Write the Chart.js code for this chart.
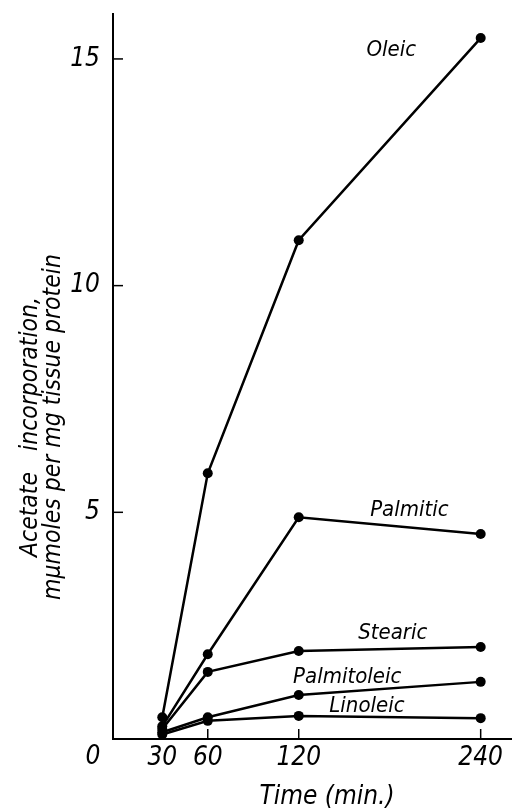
<!DOCTYPE html>
<html>
<head>
<meta charset="utf-8">
<script src="https://cdn.jsdelivr.net/npm/chart.js@4.4.0/dist/chart.umd.min.js"></script>
<style>
  html, body { margin: 0; padding: 0; background: #fff; }
  #wrap { width: 524px; height: 808px; }
</style>
</head>
<body>
<div id="wrap"><canvas id="chart" width="524" height="808"></canvas></div>
<script>
// ===============================
// DATOS
// ===============================
const times = [30, 60, 120, 240];
const oleic = [0.48, 5.86, 11.0, 15.46];
const palmitic = [0.28, 1.87, 4.89, 4.52];
const stearic = [0.22, 1.48, 1.94, 2.03];
const palmitoleic = [0.15, 0.48, 0.97, 1.26];
const linoleic = [0.1, 0.4, 0.51, 0.46];

const xTicks = [30, 60, 120, 240];
const yTicks = [5, 10, 15];

const seriesNames = ["Oleic", "Palmitic", "Stearic", "Palmitoleic", "Linoleic"];
const seriesValues = [oleic, palmitic, stearic, palmitoleic, linoleic];

const xTitle = "Time (min.)";
const yTitle = ["Acetate   incorporation,", "m\u03BCmoles per mg tissue protein"];

// etiquetas junto a las curvas (en unidades de datos)
const labelSpots = {
  Oleic: [181, 15.2],
  Palmitic: [193, 5.04],
  Stearic: [182, 2.33],
  Palmitoleic: [152, 1.37],
  Linoleic: [165, 0.73]
};

const FONT = "'Liberation Sans Narrow', 'DejaVu Sans Condensed', sans-serif";

// ===============================
// PLUGIN: marcas interiores, "0", títulos y nombres
// ===============================
const extras = {
  id: "extras",
  afterDraw(chart) {
    const ctx = chart.ctx;
    const xs = chart.scales.x;
    const ys = chart.scales.y;
    ctx.save();
    ctx.strokeStyle = "#000";
    ctx.lineWidth = 1.5;
    // marcas hacia dentro
    yTicks.forEach(v => {
      const py = ys.getPixelForValue(v);
      ctx.beginPath();
      ctx.moveTo(xs.left, py);
      ctx.lineTo(xs.left + 10, py);
      ctx.stroke();
    });
    xTicks.forEach(v => {
      const px = xs.getPixelForValue(v);
      ctx.beginPath();
      ctx.moveTo(px, ys.bottom);
      ctx.lineTo(px, ys.bottom - 10);
      ctx.stroke();
    });
    ctx.fillStyle = "#000";
    ctx.textAlign = "center";
    ctx.textBaseline = "middle";
    // origen
    ctx.font = "italic 26px " + FONT;
    ctx.fillText("0", xs.left - 20, ys.bottom + 18);
    // título x
    ctx.fillText(xTitle, xs.left + 214, ys.bottom + 58);
    // título y (dos líneas)
    ctx.font = "italic 24.5px " + FONT;
    const cy = ys.bottom - 312;
    [31, 54].forEach((lx, i) => {
      ctx.save();
      ctx.translate(lx, cy);
      ctx.rotate(-Math.PI / 2);
      ctx.fillText(yTitle[i], 0, 0);
      ctx.restore();
    });
    // nombres
    ctx.font = "italic 22px " + FONT;
    seriesNames.forEach(n => {
      const p = labelSpots[n];
      ctx.fillText(n, xs.getPixelForValue(p[0]), ys.getPixelForValue(p[1]));
    });
    ctx.restore();
  }
};

// ===============================
// GRÁFICA
// ===============================
const datasets = seriesNames.map((n, i) => ({
  label: n,
  data: times.map((t, j) => ({ x: t, y: seriesValues[i][j] })),
  borderColor: "#000",
  backgroundColor: "#000",
  borderWidth: 2.5,
  pointRadius: 5,
  pointBorderWidth: 0,
  pointBackgroundColor: "#000",
  tension: 0
}));

new Chart(document.getElementById("chart"), {
  type: "line",
  data: { datasets },
  options: {
    responsive: false,
    animation: false,
    layout: { padding: { top: 12, right: 13, left: 0, bottom: 0 } },
    plugins: { legend: { display: false }, tooltip: { enabled: false } },
    scales: {
      x: {
        type: "linear",
        min: -2.5,
        max: 260,
        afterBuildTicks: s => { s.ticks = [s.min, ...xTicks, s.max].map(v => ({ value: v })); },
        afterFit: s => { s.height = 69; },
        grid: { display: false, drawTicks: false },
        border: { color: "#000", width: 2 },
        ticks: {
          color: "#000",
          padding: 4,
          callback: v => (xTicks.includes(v) ? String(v) : ""),
          font: c => ({ family: FONT, size: xTicks.includes(c.tick && c.tick.value) ? 26 : 1, style: "italic" })
        }
      },
      y: {
        min: 0,
        max: 16,
        afterBuildTicks: s => { s.ticks = [0, ...yTicks, 16].map(v => ({ value: v })); },
        afterFit: s => { s.width = 113; },
        grid: { display: false, drawTicks: false },
        border: { color: "#000", width: 2 },
        ticks: {
          color: "#000",
          padding: 13,
          callback: v => (yTicks.includes(v) ? String(v) : ""),
          font: c => ({ family: FONT, size: yTicks.includes(c.tick && c.tick.value) ? 26 : 1, style: "italic" })
        }
      }
    }
  },
  plugins: [extras]
});
</script>
</body>
</html>
